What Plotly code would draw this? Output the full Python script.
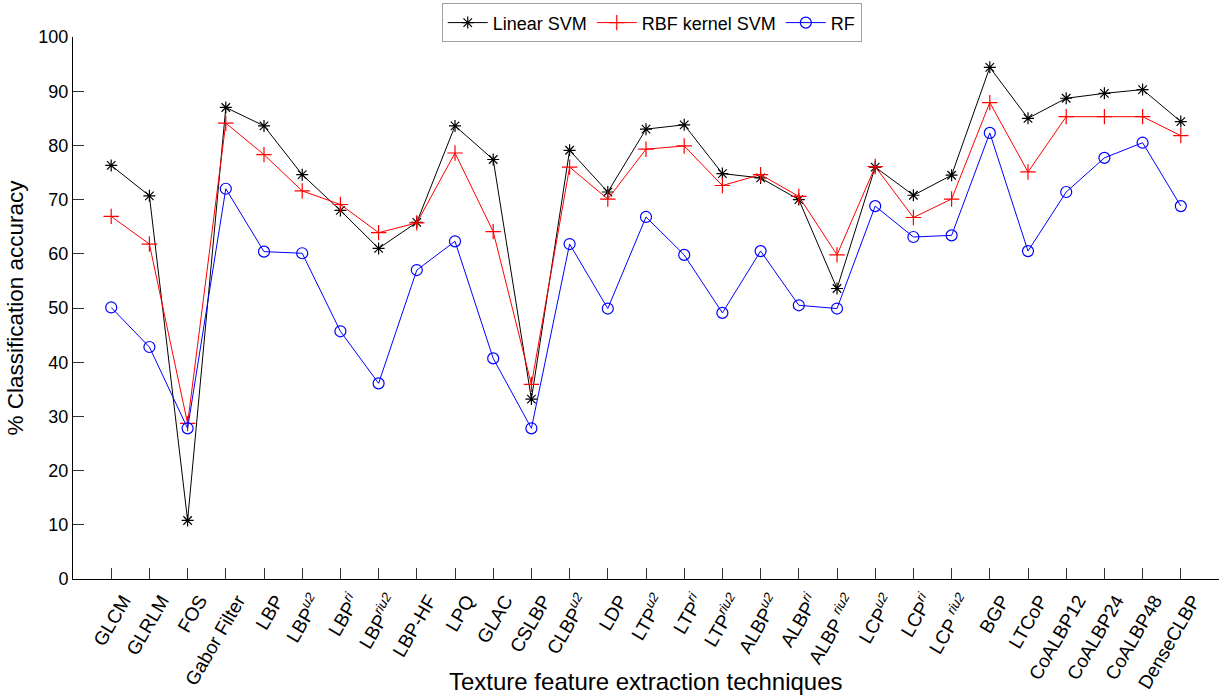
import plotly.graph_objects as go

categories = ["GLCM", "GLRLM", "FOS", "Gabor Filter", "LBP",
              "LBP<sup><i>u2</i></sup>", "LBP<sup><i>ri</i></sup>", "LBP<sup><i>riu2</i></sup>",
              "LBP-HF", "LPQ", "GLAC", "CSLBP", "CLBP<sup><i>u2</i></sup>", "LDP",
              "LTP<sup><i>u2</i></sup>", "LTP<sup><i>ri</i></sup>", "LTP<sup><i>riu2</i></sup>",
              "ALBP<sup><i>u2</i></sup>", "ALBP<sup><i>ri</i></sup>", "ALBP <sup><i>riu2</i></sup>",
              "LCP<sup><i>u2</i></sup>", "LCP<sup><i>ri</i></sup>", "LCP <sup><i>riu2</i></sup>",
              "BGP", "LTCoP", "CoALBP12", "CoALBP24", "CoALBP48", "DenseCLBP"]

linear_svm = [76.3, 70.7, 10.8, 87.0, 83.6, 74.6, 68.0, 61.0, 65.8, 83.6, 77.4, 33.2, 79.1, 71.4,
              83.0, 83.8, 74.8, 74.0, 70.0, 53.6, 76.0, 70.8, 74.5, 94.4, 85.0, 88.7, 89.6, 90.3, 84.4]
rbf_svm = [66.9, 61.8, 28.7, 84.1, 78.3, 71.6, 69.1, 63.9, 65.7, 78.6, 64.1, 35.9, 76.0, 70.1,
           79.3, 79.9, 72.6, 74.6, 70.6, 59.8, 76.1, 66.7, 70.1, 87.9, 75.1, 85.3, 85.3, 85.3, 81.8]
rf = [50.1, 42.8, 27.8, 72.0, 60.4, 60.1, 45.7, 36.1, 57.0, 62.3, 40.7, 27.8, 61.8, 49.9,
      66.8, 59.8, 49.1, 60.5, 50.5, 49.9, 68.8, 63.1, 63.4, 82.3, 60.5, 71.4, 77.7, 80.5, 68.8]

series_names = ["Linear SVM", "RBF kernel SVM", "RF"]
y_ticks = list(range(0, 101, 10))
x_title = "Texture feature extraction techniques"
y_title = "% Classification accuracy"

x = list(range(1, len(categories) + 1))

FONT = "Liberation Sans, Arial, sans-serif"

fig = go.Figure()
fig.add_trace(go.Scatter(x=x, y=linear_svm, name=series_names[0], mode="lines+markers",
                         line=dict(color="black", width=1),
                         marker=dict(symbol="asterisk-open", size=10, color="black",
                                     line=dict(color="black", width=1.2))))
fig.add_trace(go.Scatter(x=x, y=rbf_svm, name=series_names[1], mode="lines+markers",
                         line=dict(color="red", width=1),
                         marker=dict(symbol="cross-thin-open", size=11, color="red",
                                     line=dict(color="red", width=1.2))))
fig.add_trace(go.Scatter(x=x, y=rf, name=series_names[2], mode="lines+markers",
                         line=dict(color="blue", width=1),
                         marker=dict(symbol="circle-open", size=11, color="blue",
                                     line=dict(color="blue", width=1.2))))

fig.update_layout(
    width=1219, height=700,
    margin=dict(l=73, r=0, t=37, b=121),
    paper_bgcolor="white", plot_bgcolor="white",
    font=dict(family=FONT, size=18, color="black"),
    showlegend=True,
    legend=dict(orientation="h", x=0.505, xanchor="center", y=1.062, yanchor="top",
                bordercolor="#a0a0a0", borderwidth=1, bgcolor="white",
                font=dict(family=FONT, size=18, color="black"),
                itemwidth=40, tracegroupgap=0),
    xaxis=dict(range=[0, 30], tickmode="array", tickvals=x, ticktext=categories,
               tickangle=-60, ticks="inside", ticklen=11, tickcolor="#333",
               ticklabelshift=12, ticklabelstandoff=2,
               showline=True, linecolor="black", linewidth=1, showgrid=False,
               zeroline=False, mirror=False,
               tickfont=dict(family=FONT, size=19, color="black")),
    yaxis=dict(range=[0, 100], tickmode="array", tickvals=y_ticks,
               ticks="inside", ticklen=11, tickcolor="#333",
               showline=True, linecolor="black", linewidth=1, showgrid=False,
               zeroline=False, mirror=False,
               tickfont=dict(family=FONT, size=18, color="black"),
               title=dict(text=y_title,
                          font=dict(family=FONT, size=22.5, color="black"), standoff=8)),
    annotations=[dict(text=x_title, xref="paper", yref="paper", x=0.5, y=-0.19,
                      xanchor="center", yanchor="middle", showarrow=False,
                      font=dict(family=FONT, size=24, color="black"))],
)

fig.write_html("out.html")
